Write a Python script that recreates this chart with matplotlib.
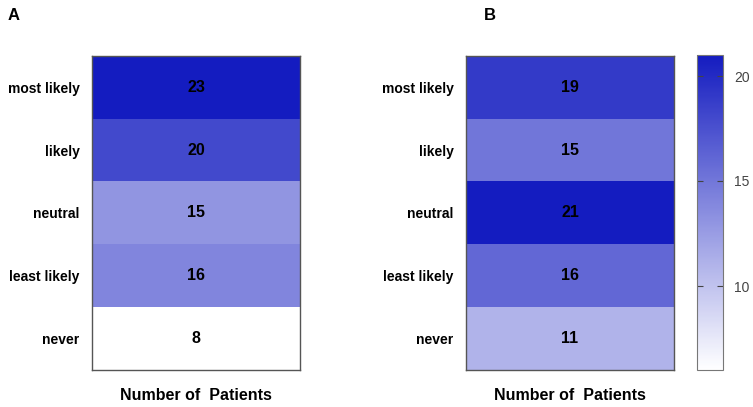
import matplotlib.pyplot as plt
import numpy as np
from matplotlib.colors import LinearSegmentedColormap, Normalize
from matplotlib.colorbar import ColorbarBase

plt.rcParams['font.family'] = ['Liberation Sans', 'DejaVu Sans']

categories = ['most likely', 'likely', 'neutral', 'least likely', 'never']
counts_a = [23, 20, 15, 16, 8]
counts_b = [19, 15, 21, 16, 11]
xlabel = 'Number of  Patients'

cmap = LinearSegmentedColormap.from_list('wb', ['#ffffff', '#141cc0'])

fig = plt.figure(figsize=(7.53, 4.07), dpi=100)
W, H = 753, 407


def px_axes(x0, y0, x1, y1):
    return fig.add_axes([x0 / W, 1 - y1 / H, (x1 - x0) / W, (y1 - y0) / H])


def draw_panel(ax, counts, vmin, vmax):
    data = np.array(counts).reshape(-1, 1)
    ax.imshow(data, cmap=cmap, vmin=vmin, vmax=vmax, aspect='auto')
    for i, v in enumerate(counts):
        ax.text(0, i, str(v), ha='center', va='center', fontsize=11.5, fontweight='bold')
    ax.set_yticks(range(len(categories)))
    ax.set_yticklabels(categories, fontsize=10, fontweight='bold')
    ax.set_xticks([])
    ax.tick_params(axis='y', length=0, pad=9)
    ax.set_xlabel(xlabel, fontsize=11.5, fontweight='bold', labelpad=13)
    for s in ax.spines.values():
        s.set_color('#555555')
        s.set_linewidth(1)


ax_a = px_axes(92, 56, 300, 370)
draw_panel(ax_a, counts_a, 8, 23)
ax_b = px_axes(466, 56, 674, 370)
draw_panel(ax_b, counts_b, 6, 21)

cax = px_axes(697, 55, 723, 370)
cb = ColorbarBase(cax, cmap=cmap, norm=Normalize(vmin=6, vmax=21), orientation='vertical')
cb.set_ticks([10, 15, 20])
cb.outline.set_edgecolor('#777777')
cax.tick_params(axis='y', direction='in', length=4, left=True, right=True,
                labelsize=10, labelcolor='#444444', color='#444444', pad=8)

fig.text(8 / W, 1 - 15 / H, 'A', fontsize=12, fontweight='bold', va='center')
fig.text(484 / W, 1 - 15 / H, 'B', fontsize=12, fontweight='bold', va='center')

plt.savefig('out.png', dpi=100)
